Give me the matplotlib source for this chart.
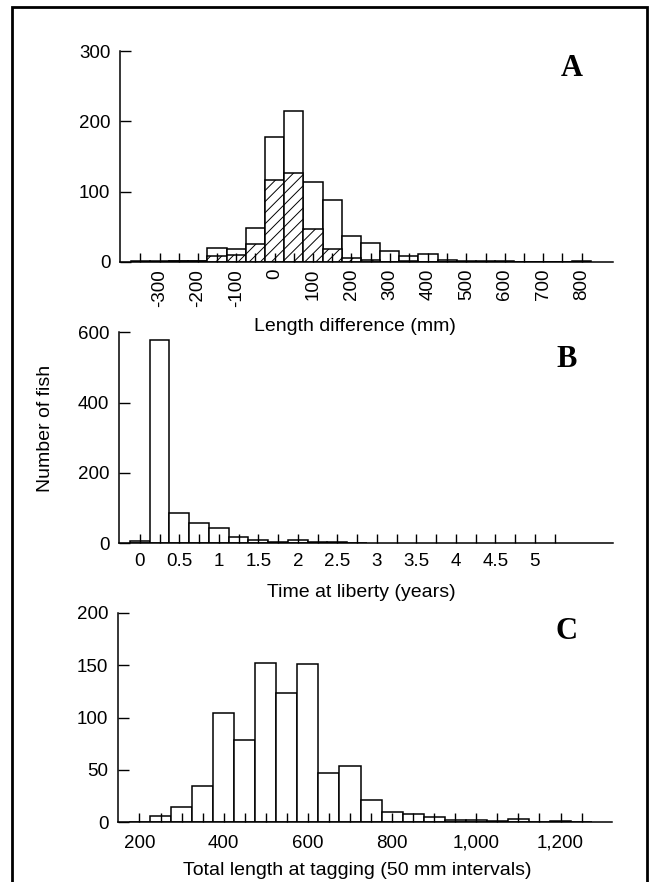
import matplotlib
matplotlib.use("Agg")
import matplotlib.pyplot as plt
from matplotlib.patches import Rectangle

plt.rcParams["font.family"] = ["Liberation Sans", "DejaVu Sans"]
plt.rcParams["hatch.linewidth"] = 0.7

# Panel A: length difference (mm), 50 mm bins
len_diff_bins = [-350, -300, -250, -200, -150, -100, -50, 0, 50, 100, 150, 200,
                 250, 300, 350, 400, 450, 500, 550, 600, 650, 700, 750, 800]
len_diff_total = [1, 1, 2, 2, 20, 18, 49, 178, 215, 114, 88, 37,
                  27, 16, 8, 11, 3, 1, 2, 1, 0, 0, 0, 1]
len_diff_hatched = [0, 0, 1, 1, 9, 10, 26, 116, 127, 47, 19, 6,
                    3, 0, 2, 0, 0, 0, 0, 0, 0, 0, 0, 0]

# Panel B: time at liberty (years), 0.25 yr bins
liberty_bins = [0, 0.25, 0.5, 0.75, 1.0, 1.25, 1.5, 1.75, 2.0, 2.25, 2.5, 2.75]
liberty_counts = [7, 579, 85, 57, 43, 18, 10, 4, 8, 4, 4, 1]
liberty_ticks = [0, 0.25, 0.5, 0.75, 1.0, 1.25, 1.5, 1.75, 2.0, 2.25, 2.5, 2.75,
                 3.0, 3.25, 3.5, 3.75, 4.0, 4.25, 4.5, 4.75, 5.0, 5.25]
liberty_ticklabels = ["0", "", "0.5", "", "1", "", "1.5", "", "2", "", "2.5", "",
                      "3", "", "3.5", "", "4", "", "4.5", "", "5", ""]

# Panel C: total length at tagging (mm), 50 mm bins
tag_len_bins = [200, 250, 300, 350, 400, 450, 500, 550, 600, 650, 700, 750,
                800, 850, 900, 950, 1000, 1050, 1100, 1150, 1200, 1250]
tag_len_counts = [0, 6, 15, 35, 104, 79, 152, 123, 151, 47, 54, 21,
                  10, 8, 5, 2, 2, 1, 3, 0, 1, 0]
tag_len_ticklabels = ["200", "", "", "", "400", "", "", "", "600", "", "", "",
                      "800", "", "", "", "1,000", "", "", "", "1,200", ""]

W, H = 650, 882


def _axes_rect(left, right, top, bottom):
    return [left / W, 1 - bottom / H, (right - left) / W, (bottom - top) / H]


def _style(ax, xlim, ylim, yticks):
    ax.patch.set_visible(False)
    ax.set_xlim(*xlim)
    ax.set_ylim(*ylim)
    ax.set_yticks(yticks)
    for s in ("top", "right"):
        ax.spines[s].set_visible(False)
    for s in ("left", "bottom"):
        ax.spines[s].set_linewidth(1.1)
    ax.tick_params(axis="y", direction="in", length=8, width=1.0, pad=7,
                   labelsize=13.5)
    ax.tick_params(axis="x", direction="in", length=6.5, width=1.0, pad=7,
                   labelsize=13.5)


fig = plt.figure(figsize=(W / 100, H / 100), dpi=100)
fig.patch.set_facecolor("white")

bar_kw = dict(facecolor="white", edgecolor="black", linewidth=1.1)

# ---- A
ax_a = fig.add_axes(_axes_rect(120, 613, 51, 262))
ax_a.bar(len_diff_bins, len_diff_total, width=50, **bar_kw)
ax_a.bar(len_diff_bins, len_diff_hatched, width=50, hatch="///", **bar_kw)
_style(ax_a, (-403, 882), (0, 300), [0, 100, 200, 300])
ax_a.set_xticks(len_diff_bins)
ax_a.set_xticklabels(["" if b % 100 else str(b) for b in len_diff_bins],
                     rotation=90, va="top", ha="center")
ax_a.tick_params(axis="x", pad=5)
ax_a.set_xlabel("Length difference (mm)", fontsize=14)
ax_a.xaxis.set_label_coords(0.477, -0.308)
ax_a.xaxis.label.set_va("center")
ax_a.text(0.917, 0.919, "A", transform=ax_a.transAxes, ha="center", va="center",
          fontsize=22, fontweight="bold", family="Liberation Serif")

# ---- B
ax_b = fig.add_axes(_axes_rect(119, 613, 332.3, 543.3))
ax_b.bar(liberty_bins, liberty_counts, width=0.25, **bar_kw)
_style(ax_b, (-0.263, 5.99), (0, 600), [0, 200, 400, 600])
ax_b.set_xticks(liberty_ticks)
ax_b.set_xticklabels(liberty_ticklabels)
ax_b.set_xlabel("Time at liberty (years)", fontsize=14)
ax_b.xaxis.set_label_coords(0.491, -0.231)
ax_b.xaxis.label.set_va("center")
ax_b.text(0.906, 0.873, "B", transform=ax_b.transAxes, ha="center", va="center",
          fontsize=22, fontweight="bold", family="Liberation Serif")

# ---- C
ax_c = fig.add_axes(_axes_rect(118, 611.5, 612.7, 822.3))
ax_c.bar(tag_len_bins, tag_len_counts, width=50, **bar_kw)
_style(ax_c, (149, 1321), (0, 200), [0, 50, 100, 150, 200])
ax_c.set_xticks(tag_len_bins)
ax_c.set_xticklabels(tag_len_ticklabels)
ax_c.tick_params(axis="x", pad=9)
ax_c.set_xlabel("Total length at tagging (50 mm intervals)", fontsize=14)
ax_c.xaxis.set_label_coords(0.484, -0.232)
ax_c.xaxis.label.set_va("center")
ax_c.text(0.908, 0.908, "C", transform=ax_c.transAxes, ha="center", va="center",
          fontsize=22, fontweight="bold", family="Liberation Serif")

fig.text(46 / W, 1 - 428 / H, "Number of fish", rotation=90, fontsize=14,
         ha="center", va="center")

# page border (open at the bottom)
fig.add_artist(Rectangle((12 / W, -0.05), (647 - 12) / W, 1.05 - 7 / H,
                         transform=fig.transFigure, fill=False,
                         edgecolor="black", linewidth=2.0))

fig.savefig("out.png", dpi=100, facecolor="white")
